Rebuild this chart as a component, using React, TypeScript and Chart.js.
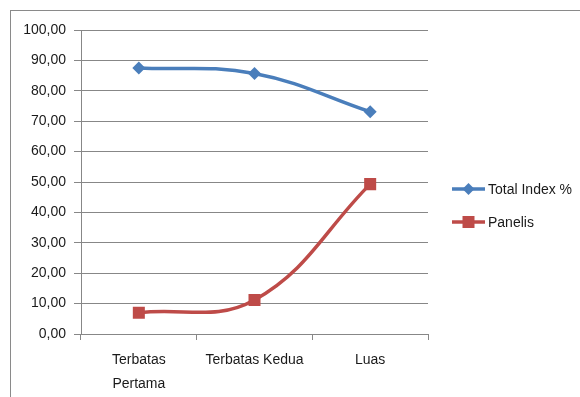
import React, { useEffect, useRef } from "react";
import { Chart, registerables } from "chart.js";

Chart.register(...registerables);

const categories: (string | string[])[] = [["Terbatas", "Pertama"], "Terbatas Kedua", "Luas"];
const totalIndex: number[] = [87.5, 85.7, 73.1];
const panelis: number[] = [7.0, 11.2, 49.3];
const seriesNames: string[] = ["Total Index %", "Panelis"];

const BLUE = "#4a7ebb";
const RED = "#be4b48";
const GRID = "#878787";
const TEXT = "#1a1a1a";
const FONT = "'Liberation Sans', Arial, sans-serif";

const legendPlugin = {
  id: "customLegend",
  afterDraw(chart: any) {
    const ctx = chart.ctx;
    const items = chart.data.datasets;
    const x0 = 452;
    const x1 = 485;
    const ys = [189, 222];
    ctx.save();
    items.forEach((ds: any, i: number) => {
      const y = ys[i];
      ctx.strokeStyle = ds.borderColor;
      ctx.lineWidth = 3.5;
      ctx.beginPath();
      ctx.moveTo(x0, y);
      ctx.lineTo(x1, y);
      ctx.stroke();
      ctx.fillStyle = ds.pointBackgroundColor;
      const cx = (x0 + x1) / 2;
      ctx.beginPath();
      if (ds.pointStyle === "rectRot") {
        const r = 6;
        ctx.moveTo(cx - r, y);
        ctx.lineTo(cx, y - r);
        ctx.lineTo(cx + r, y);
        ctx.lineTo(cx, y + r);
        ctx.closePath();
      } else {
        ctx.rect(cx - 6, y - 6, 12, 12);
      }
      ctx.fill();
      ctx.fillStyle = TEXT;
      ctx.font = `14px ${FONT}`;
      ctx.textBaseline = "middle";
      ctx.textAlign = "left";
      ctx.fillText(ds.label, 488, y + 1);
    });
    ctx.restore();
  },
};

export default function App() {
  const ref = useRef<HTMLCanvasElement | null>(null);

  useEffect(() => {
    if (!ref.current) return;
    const chart = new Chart(ref.current, {
      type: "line",
      data: {
        labels: categories,
        datasets: [
          {
            label: seriesNames[0],
            data: totalIndex,
            borderColor: BLUE,
            backgroundColor: BLUE,
            pointBackgroundColor: BLUE,
            pointBorderColor: BLUE,
            borderWidth: 3.5,
            tension: 0.4,
            pointStyle: "rectRot",
            pointRadius: 6.5,
            pointBorderWidth: 0,
          },
          {
            label: seriesNames[1],
            data: panelis,
            borderColor: RED,
            backgroundColor: RED,
            pointBackgroundColor: RED,
            pointBorderColor: RED,
            borderWidth: 3.5,
            tension: 0.4,
            pointStyle: "rect",
            pointRadius: 8.5,
            pointBorderWidth: 0,
          },
        ],
      },
      options: {
        animation: false,
        responsive: false,
        maintainAspectRatio: false,
        layout: { padding: { top: 30, right: 152, left: 0, bottom: 0 } },
        plugins: { legend: { display: false }, tooltip: { enabled: false } },
        scales: {
          x: {
            offset: true,
            grid: {
              offset: true,
              drawOnChartArea: false,
              drawTicks: true,
              tickLength: 6,
              color: GRID,
            },
            border: { color: GRID, width: 1 },
            ticks: {
              color: TEXT,
              font: { family: FONT, size: 14, lineHeight: 1.65 },
              padding: 9,
              maxRotation: 0,
              autoSkip: false,
            },
            afterFit: (s: any) => {
              s.height = 63;
            },
          },
          y: {
            min: 0,
            max: 100,
            grid: { color: GRID, tickLength: 7, lineWidth: 1 },
            border: { color: GRID, width: 1 },
            ticks: {
              stepSize: 10,
              color: TEXT,
              padding: 8,
              font: { family: FONT, size: 14 },
              callback: (v: any) => Number(v).toFixed(2).replace(".", ","),
            },
            afterFit: (s: any) => {
              s.width = 81;
            },
          },
        },
      },
      plugins: [legendPlugin],
    });
    return () => chart.destroy();
  }, []);

  return (
    <div style={{ position: "fixed", left: 0, top: 0, width: 580, height: 397, background: "#fff" }}>
      <canvas ref={ref} width={580} height={397} style={{ position: "absolute", left: 0, top: 0, width: 580, height: 397 }} />
      <div
        style={{
          position: "absolute",
          left: 10,
          top: 10,
          right: 0,
          bottom: 0,
          borderLeft: "1px solid #8a8a8a",
          borderTop: "1px solid #8a8a8a",
          pointerEvents: "none",
        }}
      />
    </div>
  );
}
